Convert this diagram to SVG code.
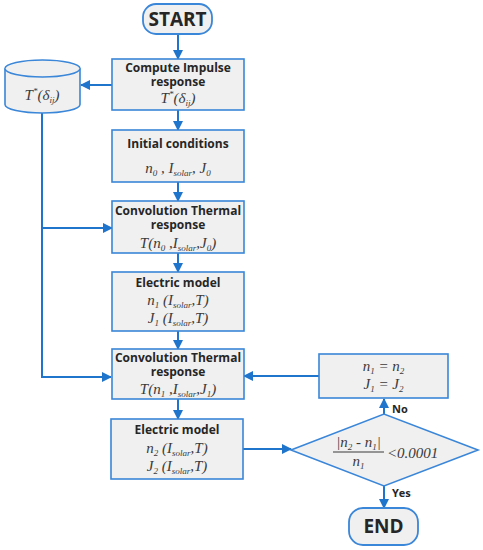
<svg xmlns="http://www.w3.org/2000/svg" width="483" height="550" viewBox="0 0 483 550">
<defs>
<marker id="ah" viewBox="0 0 10 10" refX="9" refY="5" markerWidth="5" markerHeight="5" markerUnits="strokeWidth" orient="auto">
<path d="M0,0 L10,5 L0,10 Z" fill="#1f74cc"/>
</marker>
<style>
.box{fill:#f0f0f0;stroke:#3a86d8;stroke-width:1.6}
.term{fill:#f0f0f0;stroke:#3a86d8;stroke-width:1.8}
.con{fill:none;stroke:#1f74cc;stroke-width:2}
.arr{marker-end:url(#ah)}
.h{font-family:"Open Sans","Liberation Sans",sans-serif;font-weight:bold;font-size:12px;fill:#262626;text-anchor:middle}
.t{font-family:"Open Sans","Liberation Sans",sans-serif;font-weight:bold;font-size:19px;fill:#262626;text-anchor:middle}
.m{font-family:"Liberation Serif","DejaVu Serif",serif;font-style:italic;font-size:15px;fill:#3a3a3a;text-anchor:middle}
.s{font-size:9px}
.lbl{font-family:"Open Sans","Liberation Sans",sans-serif;font-weight:bold;font-size:11px;fill:#262626}
</style>
</defs>

<g id="connectors">
<line class="con arr" x1="178" y1="34" x2="178" y2="59"/>
<line class="con arr" x1="178" y1="110" x2="178" y2="130"/>
<line class="con arr" x1="178" y1="182" x2="178" y2="201"/>
<line class="con arr" x1="178" y1="253" x2="178" y2="272"/>
<line class="con arr" x1="178" y1="331" x2="178" y2="349"/>
<line class="con arr" x1="178" y1="399" x2="178" y2="419"/>
<line class="con arr" x1="112" y1="85" x2="81" y2="85"/>
<polyline class="con arr" points="42,113 42,377 111,377"/>
<line class="con arr" x1="42" y1="228" x2="112" y2="228"/>
<line class="con arr" x1="243" y1="449" x2="291" y2="449"/>
<line class="con arr" x1="384" y1="414" x2="384" y2="399"/>
<line class="con arr" x1="384" y1="486" x2="384" y2="508"/>
<line class="con arr" x1="319" y1="376" x2="244" y2="376"/>
<text class="lbl" x="392" y="413">No</text>
<text class="lbl" x="392" y="497">Yes</text>
</g>

<g id="start">
<rect class="term" x="143" y="4" width="69" height="30" rx="13"/>
<text class="t" x="177.5" y="26">START</text>
</g>

<g id="storage">
<path class="box" d="M5,68.5 A37.5,8.5 0 0 1 80,68.5 V104.5 A37.5,8.5 0 0 1 5,104.5 Z"/>
<path class="box" d="M5,68.5 A37.5,8.5 0 0 0 80,68.5" fill="none"/>
<text class="m" x="42" y="100">T<tspan class="s" dy="-6">*</tspan><tspan dy="6">(δ</tspan><tspan class="s" dy="3">ij</tspan><tspan dy="-3">)</tspan></text>
</g>

<g id="impulse">
<rect class="box" x="112" y="59" width="132" height="51"/>
<text class="h" x="178" y="72">Compute Impulse</text>
<text class="h" x="178" y="86">response</text>
<text class="m" x="178" y="103">T<tspan class="s" dy="-6">*</tspan><tspan dy="6">(δ</tspan><tspan class="s" dy="3">ij</tspan><tspan dy="-3">)</tspan></text>
</g>

<g id="initial">
<rect class="box" x="112" y="130" width="132" height="52"/>
<text class="h" x="178" y="148">Initial conditions</text>
<text class="m" x="178" y="173">n<tspan class="s" dy="3">0</tspan><tspan dy="-3"> , I</tspan><tspan class="s" dy="3">solar</tspan><tspan dy="-3">, J</tspan><tspan class="s" dy="3">0</tspan></text>
</g>

<g id="conv1">
<rect class="box" x="112" y="201" width="132" height="52"/>
<text class="h" x="178" y="215">Convolution Thermal</text>
<text class="h" x="178" y="229">response</text>
<text class="m" x="178" y="248">T(n<tspan class="s" dy="3">0</tspan><tspan dy="-3"> ,I</tspan><tspan class="s" dy="3">solar</tspan><tspan dy="-3">,J</tspan><tspan class="s" dy="3">0</tspan><tspan dy="-3">)</tspan></text>
</g>

<g id="elec1">
<rect class="box" x="112" y="272" width="132" height="59"/>
<text class="h" x="178" y="287">Electric model</text>
<text class="m" x="178" y="305">n<tspan class="s" dy="3">1</tspan><tspan dy="-3"> (I</tspan><tspan class="s" dy="3">solar</tspan><tspan dy="-3">,T)</tspan></text>
<text class="m" x="178" y="323">J<tspan class="s" dy="3">1</tspan><tspan dy="-3"> (I</tspan><tspan class="s" dy="3">solar</tspan><tspan dy="-3">,T)</tspan></text>
</g>

<g id="conv2">
<rect class="box" x="112" y="349" width="132" height="50"/>
<text class="h" x="178" y="362">Convolution Thermal</text>
<text class="h" x="178" y="376">response</text>
<text class="m" x="178" y="394">T(n<tspan class="s" dy="3">1</tspan><tspan dy="-3"> ,I</tspan><tspan class="s" dy="3">solar</tspan><tspan dy="-3">,J</tspan><tspan class="s" dy="3">1</tspan><tspan dy="-3">)</tspan></text>
</g>

<g id="elec2">
<rect class="box" x="111" y="419" width="132" height="60"/>
<text class="h" x="177" y="434">Electric model</text>
<text class="m" x="177" y="453">n<tspan class="s" dy="3">2</tspan><tspan dy="-3"> (I</tspan><tspan class="s" dy="3">solar</tspan><tspan dy="-3">,T)</tspan></text>
<text class="m" x="177" y="471">J<tspan class="s" dy="3">2</tspan><tspan dy="-3"> (I</tspan><tspan class="s" dy="3">solar</tspan><tspan dy="-3">,T)</tspan></text>
</g>

<g id="update">
<rect class="box" x="319" y="354" width="129" height="44"/>
<text class="m" x="383.5" y="371">n<tspan class="s" dy="3">1</tspan><tspan dy="-3"> = n</tspan><tspan class="s" dy="3">2</tspan></text>
<text class="m" x="383.5" y="389">J<tspan class="s" dy="3">1</tspan><tspan dy="-3"> = J</tspan><tspan class="s" dy="3">2</tspan></text>
</g>

<g id="decision">
<polygon class="box" points="291,450 384,414 478,450 384,486"/>
<text class="m" x="358.5" y="447">|n<tspan class="s" dy="3">2</tspan><tspan dy="-3"> - n</tspan><tspan class="s" dy="3">1</tspan><tspan dy="-3">|</tspan></text>
<line x1="333" y1="452" x2="384" y2="452" stroke="#3a3a3a" stroke-width="1"/>
<text class="m" x="358.5" y="466">n<tspan class="s" dy="3">1</tspan></text>
<text class="m" x="387" y="458" style="text-anchor:start">&lt;0.0001</text>
</g>

<g id="end">
<rect class="term" x="349" y="508" width="69" height="37" rx="14"/>
<text class="t" x="383.5" y="533">END</text>
</g>
</svg>
